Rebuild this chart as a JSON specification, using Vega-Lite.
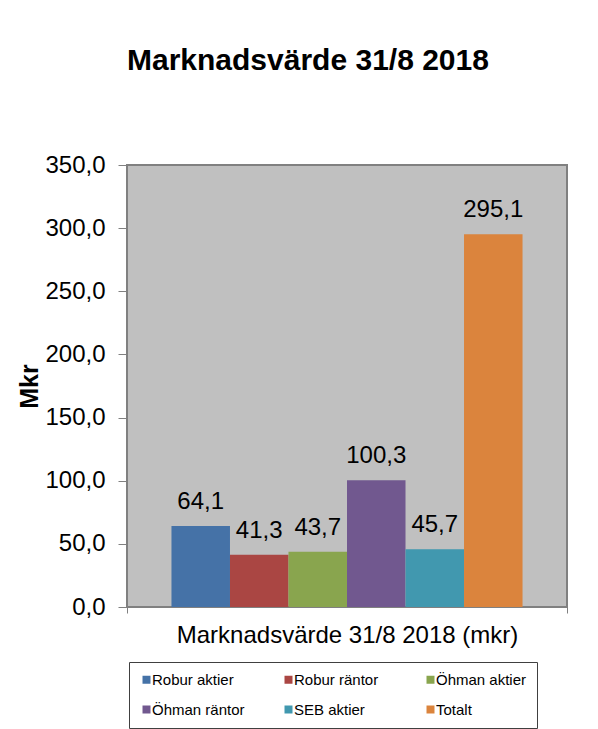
{
  "$schema": "https://vega.github.io/schema/vega-lite/v6.json",
  "width": 440,
  "height": 442,
  "autosize": {"type": "none"},
  "padding": {"left": 127, "top": 165, "right": 31, "bottom": 122},
  "background": "white",
  "title": {
    "text": "Marknadsvärde 31/8 2018",
    "font": "Liberation Sans",
    "fontSize": 30,
    "fontWeight": "bold",
    "color": "black",
    "anchor": "start",
    "frame": "group",
    "baseline": "alphabetic",
    "offset": 53
  },
  "data": {
    "values": [
      {"kategori": "Marknadsvärde 31/8 2018 (mkr)", "serie": "Robur aktier", "varde": 64.1},
      {"kategori": "Marknadsvärde 31/8 2018 (mkr)", "serie": "Robur räntor", "varde": 41.3},
      {"kategori": "Marknadsvärde 31/8 2018 (mkr)", "serie": "Öhman aktier", "varde": 43.7},
      {"kategori": "Marknadsvärde 31/8 2018 (mkr)", "serie": "Öhman räntor", "varde": 100.3},
      {"kategori": "Marknadsvärde 31/8 2018 (mkr)", "serie": "SEB aktier", "varde": 45.7},
      {"kategori": "Marknadsvärde 31/8 2018 (mkr)", "serie": "Totalt", "varde": 295.1}
    ]
  },
  "encoding": {
    "x": {
      "field": "kategori",
      "type": "nominal",
      "scale": {"paddingInner": 0, "paddingOuter": 0},
      "axis": {
        "title": null,
        "labelAngle": 0,
        "labelFont": "Liberation Sans",
        "labelFontSize": 24,
        "labelColor": "black",
        "labelLimit": 600,
        "labelPadding": 10,
        "tickBand": "extent",
        "tickSize": 6,
        "tickColor": "#808080",
        "domainColor": "#808080"
      }
    },
    "xOffset": {
      "field": "serie",
      "type": "nominal",
      "sort": ["Robur aktier", "Robur räntor", "Öhman aktier", "Öhman räntor", "SEB aktier", "Totalt"],
      "scale": {"paddingInner": 0, "paddingOuter": 0.76}
    },
    "y": {
      "field": "varde",
      "type": "quantitative",
      "scale": {"domain": [0, 350], "nice": false},
      "axis": {
        "title": "Mkr",
        "titleFont": "Liberation Sans",
        "titleFontSize": 25,
        "titleFontWeight": "bold",
        "titleColor": "black",
        "titlePadding": 2,
        "values": [0, 50, 100, 150, 200, 250, 300, 350],
        "format": ".1f",
        "labelFont": "Liberation Sans",
        "labelFontSize": 24,
        "labelColor": "black",
        "labelPadding": 13,
        "tickSize": 9,
        "tickColor": "#808080",
        "domainColor": "#808080",
        "grid": false
      }
    }
  },
  "layer": [
    {
      "mark": {"type": "bar"},
      "encoding": {
        "color": {
          "field": "serie",
          "type": "nominal",
          "scale": {
            "domain": ["Robur aktier", "Robur räntor", "Öhman aktier", "Öhman räntor", "SEB aktier", "Totalt"],
            "range": ["#4572A7", "#AA4643", "#89A54E", "#71588F", "#4198AF", "#DB843D"]
          },
          "legend": {
            "title": null,
            "orient": "none",
            "legendX": 2,
            "legendY": 497,
            "direction": "horizontal",
            "columns": 3,
            "gridAlign": "all",
            "columnPadding": 36,
            "rowPadding": 14,
            "padding": 10,
            "strokeColor": "#404040",
            "symbolType": "square",
            "symbolSize": 64,
            "symbolStrokeWidth": 0,
            "labelFont": "Liberation Sans",
            "labelFontSize": 15,
            "labelColor": "black",
            "labelOffset": -2
          }
        }
      }
    },
    {
      "mark": {
        "type": "text",
        "dy": -17,
        "baseline": "alphabetic",
        "font": "Liberation Sans",
        "fontSize": 24,
        "color": "black"
      },
      "encoding": {
        "text": {"field": "varde", "type": "quantitative", "format": ".1f"}
      }
    }
  ],
  "config": {
    "locale": {
      "number": {"decimal": ",", "thousands": " ", "grouping": [3], "currency": ["", " kr"]}
    },
    "view": {"fill": "#C0C0C0", "stroke": "#808080", "strokeWidth": 2}
  }
}
